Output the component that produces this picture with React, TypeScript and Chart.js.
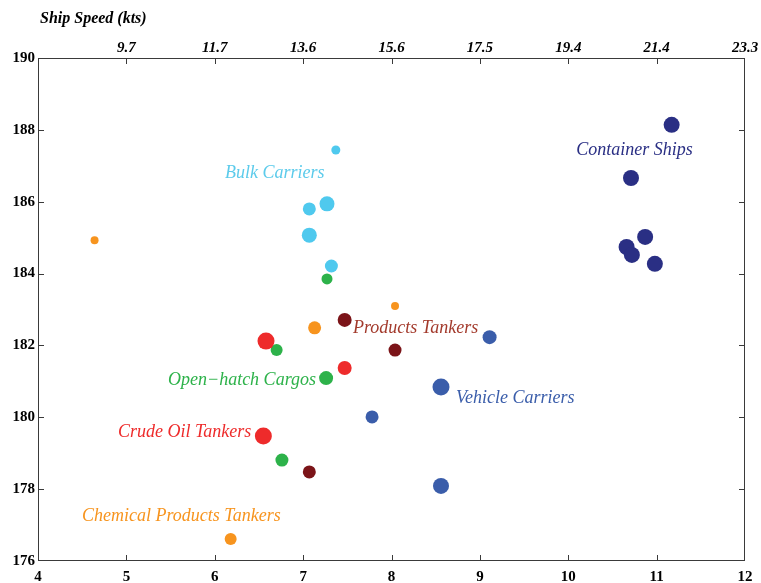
import React, { useEffect, useRef } from 'react';
import { Chart, registerables } from 'chart.js';

Chart.register(...registerables);

// ---- data ----
const topTickLabels = ['', '9.7', '11.7', '13.6', '15.6', '17.5', '19.4', '21.4', '23.3'];

const containerX = [11.17, 10.71, 10.87, 10.66, 10.72, 10.98];
const containerY = [188.14, 186.66, 185.02, 184.74, 184.52, 184.27];
const containerR = [8, 8, 8, 8, 8, 8];

const bulkX = [7.37, 7.27, 7.07, 7.07, 7.32];
const bulkY = [187.44, 185.94, 185.8, 185.07, 184.21];
const bulkR = [4.5, 7.5, 6.5, 7.5, 6.5];

const crudeX = [6.58, 7.47, 6.55];
const crudeY = [182.12, 181.37, 179.48];
const crudeR = [8.5, 7, 8.5];

const chemX = [4.64, 7.13, 8.04, 6.18];
const chemY = [184.93, 182.49, 183.1, 176.61];
const chemR = [4, 6.5, 4, 6];

const productsX = [7.47, 8.04, 7.07];
const productsY = [182.71, 181.87, 178.48];
const productsR = [7, 6.5, 6.5];

const vehicleX = [9.11, 8.56, 7.78, 8.56];
const vehicleY = [182.23, 180.84, 180.01, 178.09];
const vehicleR = [7, 8.5, 6.5, 8];

const openX = [7.27, 6.7, 7.26, 6.76];
const openY = [183.85, 181.87, 181.09, 178.81];
const openR = [5.5, 6, 7, 6.5];

const labelTexts = ['Container Ships', 'Bulk Carriers', 'Products Tankers', 'Open\u2212hatch Cargos', 'Vehicle Carriers', 'Crude Oil Tankers', 'Chemical Products Tankers'];
const labelX = [10.09, 6.116, 7.564, 5.471, 8.73, 4.905, 4.498];
const labelY = [187.44, 186.8, 182.49, 181.04, 180.54, 179.59, 177.25];
const labelColors = ['#2a2f84', '#5ccbeb', '#a33a2c', '#2db24a', '#3a5daa', '#ee2b2b', '#f7941e'];

const SERIF = '"Liberation Serif", "Times New Roman", serif';

function series(label: string, xs: number[], ys: number[], rs: number[], color: string) {
  return {
    label,
    data: xs.map((x, i) => ({ x, y: ys[i] })),
    pointRadius: rs,
    pointHoverRadius: rs,
    backgroundColor: color,
    borderWidth: 0,
    pointBorderWidth: 0,
  };
}

const framePlugin = {
  id: 'frame',
  afterDraw(chart: any) {
    const { ctx, chartArea: a, scales } = chart;
    const xs = scales.x;
    const ys = scales.y;
    ctx.save();
    ctx.strokeStyle = '#3a3a3a';
    ctx.lineWidth = 1;
    ctx.strokeRect(a.left + 0.5, a.top + 0.5, a.right - a.left - 1, a.bottom - a.top - 1);
    ctx.beginPath();
    const tl = 6;
    xs.ticks.forEach((t: any) => {
      if (t.value <= xs.min || t.value >= xs.max) return;
      const px = Math.round(xs.getPixelForValue(t.value)) + 0.5;
      ctx.moveTo(px, a.bottom);
      ctx.lineTo(px, a.bottom - tl);
      ctx.moveTo(px, a.top);
      ctx.lineTo(px, a.top + tl);
    });
    ys.ticks.forEach((t: any) => {
      if (t.value <= ys.min || t.value >= ys.max) return;
      const py = Math.round(ys.getPixelForValue(t.value)) + 0.5;
      ctx.moveTo(a.left, py);
      ctx.lineTo(a.left + tl, py);
      ctx.moveTo(a.right, py);
      ctx.lineTo(a.right - tl, py);
    });
    ctx.stroke();

    // series labels
    ctx.font = `italic 18px ${SERIF}`;
    ctx.textAlign = 'left';
    ctx.textBaseline = 'middle';
    labelTexts.forEach((txt, i) => {
      ctx.fillStyle = labelColors[i];
      ctx.fillText(txt, xs.getPixelForValue(labelX[i]), ys.getPixelForValue(labelY[i]));
    });

    // axis title
    ctx.font = `italic bold 16px ${SERIF}`;
    ctx.fillStyle = '#000';
    ctx.fillText('Ship Speed (kts)', 40, 19);
    ctx.restore();
  },
};

const noPad = (s: any) => {
  s.paddingLeft = 0;
  s.paddingRight = 0;
  s.paddingTop = 0;
  s.paddingBottom = 0;
};

export default function App() {
  const ref = useRef<HTMLCanvasElement>(null);
  useEffect(() => {
    document.body.style.margin = '0';
    const canvas = ref.current;
    if (!canvas) return;
    const chart = new Chart(canvas, {
      type: 'scatter',
      data: {
        datasets: [
          series('Container Ships', containerX, containerY, containerR, '#2a2f84'),
          series('Bulk Carriers', bulkX, bulkY, bulkR, '#4fc9ee'),
          series('Crude Oil Tankers', crudeX, crudeY, crudeR, '#ee2b2b'),
          series('Chemical Products Tankers', chemX, chemY, chemR, '#f7941e'),
          series('Products Tankers', productsX, productsY, productsR, '#7b1418'),
          series('Vehicle Carriers', vehicleX, vehicleY, vehicleR, '#3a5daa'),
          series('Open-hatch Cargos', openX, openY, openR, '#2db24a'),
        ] as any,
      },
      options: {
        animation: false,
        responsive: false,
        devicePixelRatio: 1,
        layout: { padding: { right: 16, left: 0, top: 0, bottom: 0 } },
        plugins: { legend: { display: false }, tooltip: { enabled: false } },
        scales: {
          x: {
            type: 'linear',
            position: 'bottom',
            min: 4,
            max: 12,
            grid: { display: false, drawTicks: false, tickLength: 0 },
            border: { display: false },
            ticks: {
              stepSize: 1,
              color: '#000',
              padding: 7,
              maxRotation: 0,
              font: { family: SERIF, size: 15, weight: 'bold' },
            },
            afterFit: (s: any) => { s.height = 22; noPad(s); },
          },
          x2: {
            type: 'linear',
            position: 'top',
            min: 4,
            max: 12,
            grid: { display: false, drawTicks: false, tickLength: 0 },
            border: { display: false },
            ticks: {
              stepSize: 1,
              color: '#000',
              padding: 1,
              maxRotation: 0,
              font: { family: SERIF, size: 15, weight: 'bold', style: 'italic' },
              callback: (v: any) => topTickLabels[Math.round(Number(v) - 4)] ?? '',
            },
            afterFit: (s: any) => { s.height = 58; noPad(s); },
          },
          y: {
            type: 'linear',
            min: 176,
            max: 190,
            grid: { display: false, drawTicks: false, tickLength: 0 },
            border: { display: false },
            ticks: {
              stepSize: 2,
              color: '#000',
              padding: 3,
              font: { family: SERIF, size: 15, weight: 'bold' },
            },
            afterFit: (s: any) => { s.width = 38; noPad(s); },
          },
        },
      } as any,
      plugins: [framePlugin],
    });
    return () => chart.destroy();
  }, []);
  return <canvas ref={ref} width={761} height={583} style={{ display: 'block' }} />;
}
